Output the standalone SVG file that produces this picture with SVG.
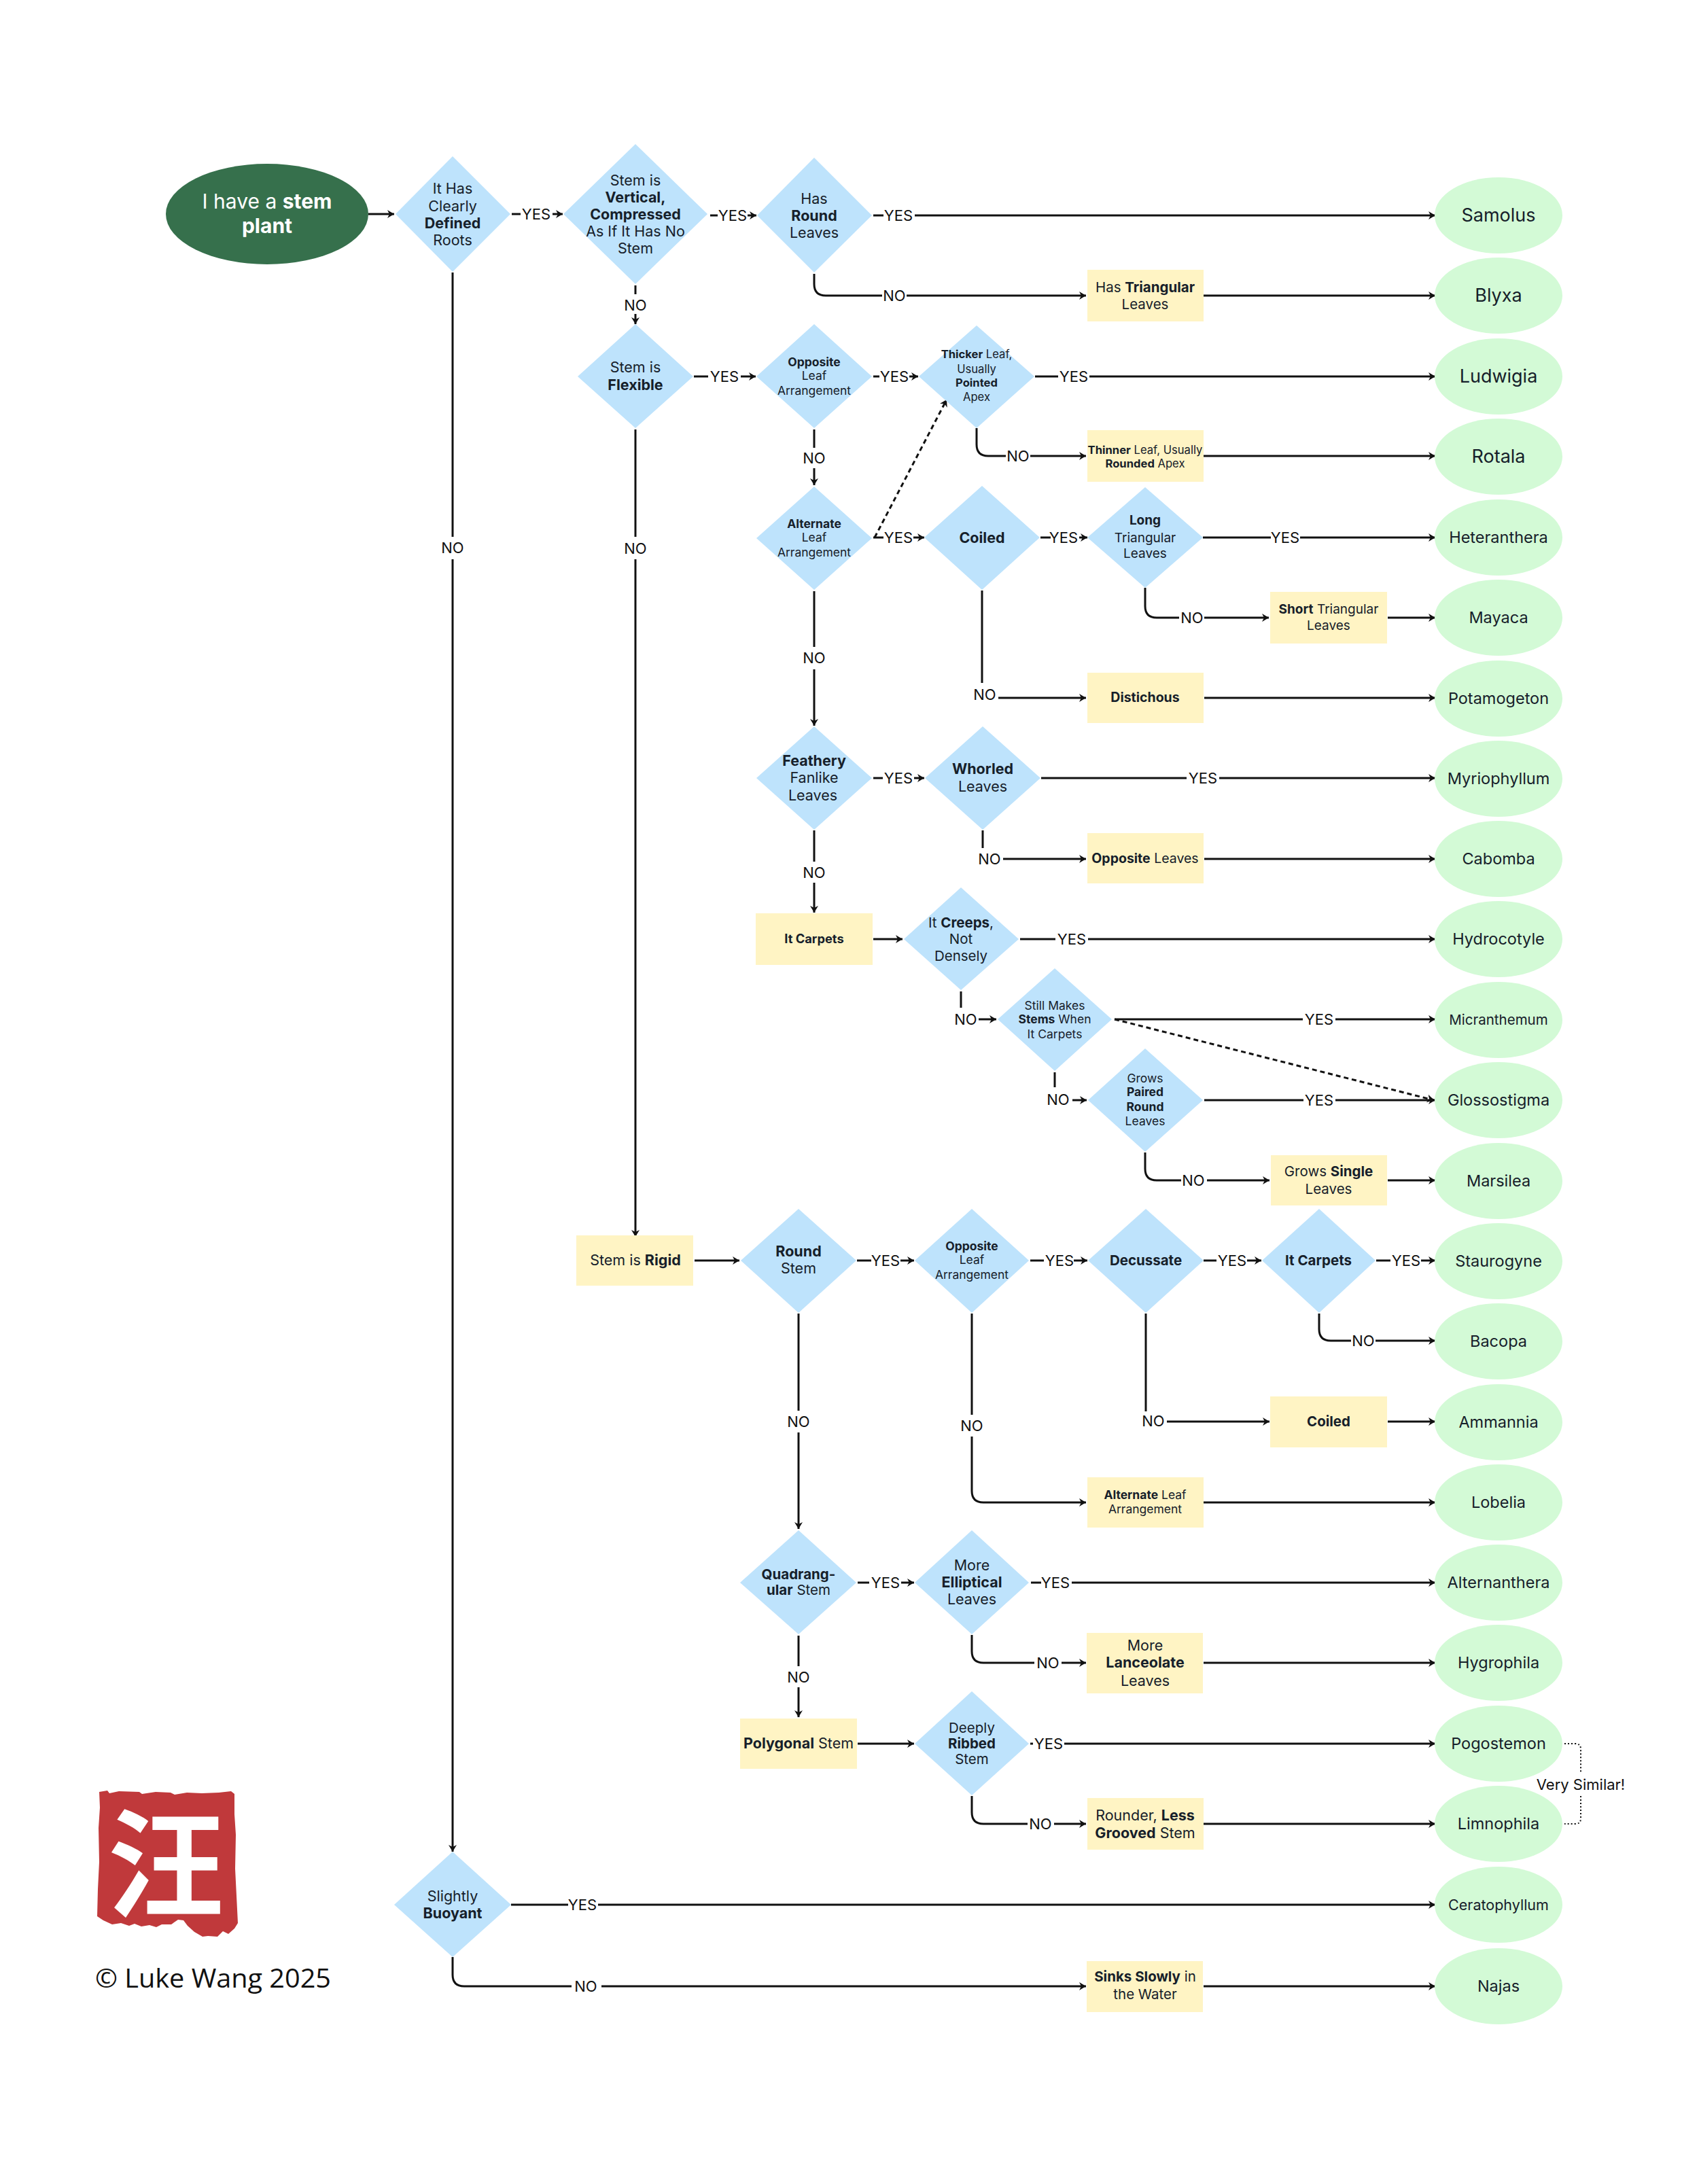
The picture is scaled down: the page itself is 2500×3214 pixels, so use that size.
<svg xmlns="http://www.w3.org/2000/svg" width="2500" height="3214" viewBox="0 0 2500 3214">
<style>
text{font-family:Inter,"Noto Sans","Liberation Sans","Noto Sans CJK SC",sans-serif;fill:#16202a;text-anchor:middle;font-weight:400}
.b{font-weight:700}
.f16{font-size:16.6px}.f17{font-size:17.5px}.f18{font-size:19.5px}.f19{font-size:19px}.f20{font-size:20.5px}.f21{font-size:21.5px}.f22{font-size:23.5px}.f23{font-size:18.3px}.f26{font-size:27px}.f30{font-size:30px}
.d{fill:#bee3fc}.r{fill:#fff4c4}.g{fill:#d3fad6}
.c{fill:none;stroke:#111;stroke-width:3}
.a{marker-end:url(#arr)}
.dash{stroke-dasharray:7 5}
.dot{stroke-width:2;stroke-dasharray:2 3}
.l{font-size:22px;fill:#111}
</style>
<defs>
<marker id="arr" markerUnits="userSpaceOnUse" markerWidth="12" markerHeight="14" refX="11" refY="7" orient="auto"><path d="M1,1 L11,7 L1,13 L4,7 Z" fill="#111"/></marker>
</defs>
<rect width="2500" height="3214" fill="#fff"/>

<g id="connectors">
<path class="c a" d="M542,315H580"/>
<path class="c" d="M753,315H766"/><path class="c a" d="M813,315H828"/>
<path class="c" d="M1045,317H1056"/><path class="c a" d="M1100,317H1113"/>
<path class="c" d="M1285,317H1300"/><path class="c a" d="M1346,317H2112"/>
<path class="c" d="M1198,403V418Q1198,435 1215,435H1298"/><path class="c a" d="M1334,435H1598"/>
<path class="c a" d="M1771,435H2112"/>
<path class="c" d="M666,401V790"/><path class="c a" d="M666,823V2725"/>
<path class="c" d="M935,420V433"/><path class="c a" d="M935,462V477"/>
<path class="c" d="M1021,554H1042"/><path class="c a" d="M1090,554H1112"/>
<path class="c" d="M1285,554H1294"/><path class="c a" d="M1338,554H1351"/>
<path class="c" d="M1523,554H1557"/><path class="c a" d="M1603,554H2112"/>
<path class="c" d="M1437,630V654Q1437,671 1454,671H1480"/><path class="c a" d="M1516,671H1598"/>
<path class="c a" d="M1771,671H2112"/>
<path class="c" d="M935,632V790"/><path class="c a" d="M935,823V1820"/>
<path class="c" d="M1198,632V659"/><path class="c a" d="M1198,689V714"/>
<path class="c a dash" d="M1287,791L1393,588"/>
<path class="c" d="M1285,791H1300"/><path class="c a" d="M1344,791H1360"/>
<path class="c" d="M1531,791H1546"/><path class="c a" d="M1588,791H1600"/>
<path class="c" d="M1770,791H1870"/><path class="c a" d="M1913,791H2112"/>
<path class="c" d="M1685,865V892Q1685,909 1702,909H1735"/><path class="c a" d="M1772,909H1867"/>
<path class="c a" d="M2042,909H2112"/>
<path class="c" d="M1198,870V952"/><path class="c a" d="M1198,985V1068"/>
<path class="c" d="M1445,869V1005"/><path class="c a" d="M1469,1027H1598"/>
<path class="c a" d="M1772,1027H2112"/>
<path class="c" d="M1285,1145H1299"/><path class="c a" d="M1345,1145H1360"/>
<path class="c" d="M1532,1145H1746"/><path class="c a" d="M1794,1145H2112"/>
<path class="c" d="M1446,1222V1248"/><path class="c a" d="M1476,1264H1598"/>
<path class="c a" d="M1772,1264H2112"/>
<path class="c" d="M1198,1222V1268"/><path class="c a" d="M1198,1299V1343"/>
<path class="c a" d="M1285,1382H1328"/>
<path class="c" d="M1501,1382H1553"/><path class="c a" d="M1601,1382H2112"/>
<path class="c" d="M1414,1459V1483"/><path class="c a" d="M1440,1500H1466"/>
<path class="c" d="M1640,1500H1917"/><path class="c a" d="M1965,1500H2112"/>
<path class="c a dash" d="M1640,1500L2110,1619"/>
<path class="c" d="M1552,1578V1600"/><path class="c a" d="M1578,1619H1599"/>
<path class="c" d="M1772,1619H1918"/><path class="c a" d="M1965,1619H2112"/>
<path class="c" d="M1685,1696V1720Q1685,1737 1702,1737H1738"/><path class="c a" d="M1776,1737H1868"/>
<path class="c a" d="M2042,1737H2112"/>
<path class="c a" d="M1022,1855H1088"/>
<path class="c" d="M1261,1855H1282"/><path class="c a" d="M1325,1855H1345"/>
<path class="c" d="M1516,1855H1536"/><path class="c a" d="M1580,1855H1600"/>
<path class="c" d="M1771,1855H1790"/><path class="c a" d="M1835,1855H1856"/>
<path class="c" d="M2025,1855H2046"/><path class="c a" d="M2091,1855H2112"/>
<path class="c" d="M1941,1933V1956Q1941,1973 1958,1973H1988"/><path class="c a" d="M2024,1973H2112"/>
<path class="c" d="M1686,1933V2077"/><path class="c a" d="M1717,2092H1868"/>
<path class="c a" d="M2042,2092H2112"/>
<path class="c" d="M1430,1933V2082"/><path class="c a" d="M1430,2114V2194Q1430,2211 1447,2211H1598"/>
<path class="c a" d="M1771,2211H2112"/>
<path class="c" d="M1175,1933V2076"/><path class="c a" d="M1175,2108V2250"/>
<path class="c" d="M1262,2329H1279"/><path class="c a" d="M1326,2329H1345"/>
<path class="c" d="M1517,2329H1532"/><path class="c a" d="M1577,2329H2112"/>
<path class="c" d="M1430,2406V2430Q1430,2447 1447,2447H1522"/><path class="c a" d="M1562,2447H1598"/>
<path class="c a" d="M1771,2447H2112"/>
<path class="c" d="M1175,2407V2452"/><path class="c a" d="M1175,2483V2527"/>
<path class="c a" d="M1262,2566H1345"/>
<path class="c" d="M1516,2566H1520"/><path class="c a" d="M1566,2566H2112"/>
<path class="c" d="M1430,2643V2667Q1430,2684 1447,2684H1512"/><path class="c a" d="M1551,2684H1598"/>
<path class="c a" d="M1771,2684H2112"/>
<path class="c dot" d="M2302,2566H2318Q2326,2566 2326,2574V2608M2326,2643V2676Q2326,2684 2318,2684H2302"/>
<path class="c" d="M752,2803H836"/><path class="c a" d="M880,2803H2112"/>
<path class="c" d="M666,2880V2906Q666,2923 683,2923H841"/><path class="c a" d="M885,2923H1598"/>
<path class="c a" d="M1771,2923H2112"/>
</g>

<g id="connector-labels">
<text class="l" x="789" y="323">YES</text><text class="l" x="1078" y="325">YES</text><text class="l" x="1322" y="325">YES</text>
<text class="l" x="1316" y="443">NO</text><text class="l" x="935" y="457">NO</text><text class="l" x="666" y="814">NO</text><text class="l" x="935" y="815">NO</text>
<text class="l" x="1066" y="562">YES</text><text class="l" x="1316" y="562">YES</text><text class="l" x="1580" y="562">YES</text>
<text class="l" x="1498" y="679">NO</text><text class="l" x="1198" y="682">NO</text>
<text class="l" x="1322" y="799">YES</text><text class="l" x="1565" y="799">YES</text><text class="l" x="1891" y="799">YES</text>
<text class="l" x="1754" y="917">NO</text><text class="l" x="1198" y="976">NO</text><text class="l" x="1449" y="1030">NO</text>
<text class="l" x="1322" y="1153">YES</text><text class="l" x="1770" y="1153">YES</text><text class="l" x="1456" y="1272">NO</text><text class="l" x="1198" y="1292">NO</text>
<text class="l" x="1577" y="1390">YES</text><text class="l" x="1421" y="1508">NO</text><text class="l" x="1941" y="1508">YES</text>
<text class="l" x="1557" y="1626">NO</text><text class="l" x="1941" y="1627">YES</text><text class="l" x="1756" y="1745">NO</text>
<text class="l" x="1303" y="1863">YES</text><text class="l" x="1559" y="1863">YES</text><text class="l" x="1813" y="1863">YES</text><text class="l" x="2069" y="1863">YES</text>
<text class="l" x="2006" y="1981">NO</text><text class="l" x="1697" y="2099">NO</text><text class="l" x="1430" y="2106">NO</text><text class="l" x="1175" y="2100">NO</text>
<text class="l" x="1303" y="2337">YES</text><text class="l" x="1553" y="2337">YES</text><text class="l" x="1542" y="2455">NO</text><text class="l" x="1175" y="2476">NO</text>
<text class="l" x="1543" y="2574">YES</text><text class="l" x="1531" y="2692">NO</text>
<text class="l" x="857" y="2811">YES</text><text class="l" x="862" y="2931">NO</text>
<text class="l" x="2326" y="2634">Very Similar!</text>
</g>

<g id="start"><ellipse cx="393" cy="315" rx="149" ry="74" fill="#36704c"/><text class="f30" style="fill:#fff"><tspan x="393" y="307" style="fill:#fff">I have a <tspan class="b" style="fill:#fff">stem</tspan></tspan><tspan x="393" y="343" class="b" style="fill:#fff">plant</tspan></text></g>
<g id="q-roots"><polygon class="d" points="666,230 751,315 666,400 582,315"/><text class="f21"><tspan x="666" y="285">It Has</tspan><tspan x="666" y="311">Clearly</tspan><tspan x="666" y="336" class="b">Defined</tspan><tspan x="666" y="361">Roots</tspan></text></g>
<g id="q-vertical"><polygon class="d" points="935,212 1041,315 935,418 829,315"/><text class="f21"><tspan x="935" y="273">Stem is</tspan><tspan x="935" y="298" class="b">Vertical,</tspan><tspan x="935" y="323" class="b">Compressed</tspan><tspan x="935" y="348">As If It Has No</tspan><tspan x="935" y="373">Stem</tspan></text></g>
<g id="q-round"><polygon class="d" points="1198,232 1283,317 1198,401 1114,317"/><text class="f21"><tspan x="1198" y="300">Has</tspan><tspan x="1198" y="325" class="b">Round</tspan><tspan x="1198" y="350">Leaves</tspan></text></g>
<g id="q-flexible"><polygon class="d" points="935,477 1020,554 935,630 850,554"/><text class="f21"><tspan x="935" y="548">Stem is</tspan><tspan x="935" y="574" class="b">Flexible</tspan></text></g>
<g id="q-opposite1"><polygon class="d" points="1198,477 1283,554 1198,630 1113,554"/><text class="f17"><tspan x="1198" y="539" class="b">Opposite</tspan><tspan x="1198" y="559">Leaf</tspan><tspan x="1198" y="581">Arrangement</tspan></text></g>
<g id="q-thicker"><polygon class="d" points="1437,479 1522,554 1437,630 1352,554"/><text class="f16"><tspan x="1437" y="527"><tspan class="b">Thicker</tspan> Leaf,</tspan><tspan x="1437" y="549">Usually</tspan><tspan x="1437" y="569" class="b">Pointed</tspan><tspan x="1437" y="590">Apex</tspan></text></g>
<g id="q-alternate1"><polygon class="d" points="1198,716 1283,792 1198,868 1113,792"/><text class="f17"><tspan x="1198" y="777" class="b">Alternate</tspan><tspan x="1198" y="797">Leaf</tspan><tspan x="1198" y="819">Arrangement</tspan></text></g>
<g id="q-coiled"><polygon class="d" points="1445,715 1530,791 1445,868 1360,791"/><text class="f21 b" x="1445" y="799">Coiled</text></g>
<g id="q-long"><polygon class="d" points="1685,717 1770,791 1685,865 1600,791"/><text class="f19"><tspan x="1685" y="772" class="b">Long</tspan><tspan x="1685" y="798">Triangular</tspan><tspan x="1685" y="821">Leaves</tspan></text></g>
<g id="q-feathery"><polygon class="d" points="1198,1069 1283,1145 1198,1221 1113,1145"/><text class="f21"><tspan x="1198" y="1127" class="b">Feathery</tspan><tspan x="1198" y="1152">Fanlike</tspan><tspan x="1196" y="1178">Leaves</tspan></text></g>
<g id="q-whorled"><polygon class="d" points="1446,1069 1531,1145 1446,1221 1361,1145"/><text class="f21"><tspan x="1446" y="1139" class="b">Whorled</tspan><tspan x="1446" y="1165">Leaves</tspan></text></g>
<g id="q-creeps"><polygon class="d" points="1414,1306 1499,1382 1414,1457 1330,1382"/><text class="f20"><tspan x="1414" y="1365">It <tspan class="b">Creeps</tspan>,</tspan><tspan x="1414" y="1389">Not</tspan><tspan x="1414" y="1414">Densely</tspan></text></g>
<g id="q-stillmakes"><polygon class="d" points="1552,1425 1636,1500 1552,1576 1468,1500"/><text class="f17"><tspan x="1552" y="1486">Still Makes</tspan><tspan x="1552" y="1506"><tspan class="b">Stems</tspan> When</tspan><tspan x="1552" y="1528">It Carpets</tspan></text></g>
<g id="q-paired"><polygon class="d" points="1685,1543 1770,1619 1685,1695 1601,1619"/><text class="f17"><tspan x="1685" y="1593">Grows</tspan><tspan x="1685" y="1613" class="b">Paired</tspan><tspan x="1685" y="1635" class="b">Round</tspan><tspan x="1685" y="1656">Leaves</tspan></text></g>
<g id="q-roundstem"><polygon class="d" points="1175,1779 1260,1855 1175,1932 1090,1855"/><text class="f21"><tspan x="1175" y="1849" class="b">Round</tspan><tspan x="1175" y="1874">Stem</tspan></text></g>
<g id="q-opposite2"><polygon class="d" points="1430,1779 1514,1855 1430,1932 1346,1855"/><text class="f17"><tspan x="1430" y="1840" class="b">Opposite</tspan><tspan x="1430" y="1860">Leaf</tspan><tspan x="1430" y="1882">Arrangement</tspan></text></g>
<g id="q-decussate"><polygon class="d" points="1686,1779 1771,1855 1686,1932 1601,1855"/><text class="f20 b" x="1686" y="1862">Decussate</text></g>
<g id="q-carpets"><polygon class="d" points="1941,1779 2024,1855 1941,1932 1857,1855"/><text class="f20 b" x="1940" y="1862">It Carpets</text></g>
<g id="q-quadrangular"><polygon class="d" points="1175,2252 1260,2329 1175,2405 1089,2329"/><text class="f20"><tspan x="1175" y="2324" class="b">Quadrang-</tspan><tspan x="1175" y="2347"><tspan class="b">ular</tspan> Stem</tspan></text></g>
<g id="q-elliptical"><polygon class="d" points="1430,2252 1514,2329 1430,2405 1346,2329"/><text class="f21"><tspan x="1430" y="2311">More</tspan><tspan x="1430" y="2336" class="b">Elliptical</tspan><tspan x="1430" y="2361">Leaves</tspan></text></g>
<g id="q-ribbed"><polygon class="d" points="1430,2489 1514,2566 1430,2642 1346,2566"/><text class="f20"><tspan x="1430" y="2550">Deeply</tspan><tspan x="1430" y="2573" class="b">Ribbed</tspan><tspan x="1430" y="2596">Stem</tspan></text></g>
<g id="q-buoyant"><polygon class="d" points="666,2725 752,2803 666,2880 580,2803"/><text class="f21"><tspan x="666" y="2798">Slightly</tspan><tspan x="666" y="2823" class="b">Buoyant</tspan></text></g>

<g id="b-triangular"><rect class="r" x="1600" y="397" width="171" height="76"/><text class="f20"><tspan x="1685" y="430">Has <tspan class="b">Triangular</tspan></tspan><tspan x="1685" y="455">Leaves</tspan></text></g>
<g id="b-thinner"><rect class="r" x="1600" y="633" width="171" height="76"/><text class="f16"><tspan x="1685" y="668"><tspan class="b">Thinner</tspan> Leaf, Usually</tspan><tspan x="1685" y="688"><tspan class="b">Rounded</tspan> Apex</tspan></text></g>
<g id="b-short"><rect class="r" x="1869" y="871" width="172" height="76"/><text class="f19"><tspan x="1955" y="903"><tspan class="b">Short</tspan> Triangular</tspan><tspan x="1955" y="927">Leaves</tspan></text></g>
<g id="b-distichous"><rect class="r" x="1600" y="990" width="171" height="74"/><text class="f18 b" x="1685" y="1033">Distichous</text></g>
<g id="b-opposite"><rect class="r" x="1600" y="1226" width="171" height="74"/><text class="f18" x="1685" y="1270"><tspan class="b">Opposite</tspan> Leaves</text></g>
<g id="b-itcarpets"><rect class="r" x="1112" y="1344" width="172" height="76"/><text class="f23 b" x="1198" y="1388">It Carpets</text></g>
<g id="b-single"><rect class="r" x="1870" y="1700" width="171" height="74"/><text class="f20"><tspan x="1955" y="1731">Grows <tspan class="b">Single</tspan></tspan><tspan x="1955" y="1757">Leaves</tspan></text></g>
<g id="b-rigid"><rect class="r" x="848" y="1818" width="172" height="74"/><text class="f21" x="935" y="1862">Stem is <tspan class="b">Rigid</tspan></text></g>
<g id="b-coiled"><rect class="r" x="1869" y="2055" width="172" height="75"/><text class="f20 b" x="1955" y="2099">Coiled</text></g>
<g id="b-alternate"><rect class="r" x="1600" y="2174" width="171" height="74"/><text class="f17"><tspan x="1685" y="2206"><tspan class="b">Alternate</tspan> Leaf</tspan><tspan x="1685" y="2227">Arrangement</tspan></text></g>
<g id="b-lanceolate"><rect class="r" x="1599" y="2403" width="171" height="89"/><text class="f21"><tspan x="1685" y="2429">More</tspan><tspan x="1685" y="2454" class="b">Lanceolate</tspan><tspan x="1685" y="2481">Leaves</tspan></text></g>
<g id="b-polygonal"><rect class="r" x="1089" y="2529" width="172" height="74"/><text class="f21" x="1175" y="2573"><tspan class="b">Polygonal</tspan> Stem</text></g>
<g id="b-rounder"><rect class="r" x="1600" y="2646" width="171" height="76"/><text class="f21"><tspan x="1685" y="2679">Rounder, <tspan class="b">Less</tspan></tspan><tspan x="1685" y="2705"><tspan class="b">Grooved</tspan> Stem</tspan></text></g>
<g id="b-sinks"><rect class="r" x="1599" y="2886" width="171" height="75"/><text class="f20"><tspan x="1685" y="2916"><tspan class="b">Sinks Slowly</tspan> in</tspan><tspan x="1685" y="2942">the Water</tspan></text></g>

<g id="e-samolus"><ellipse class="g" cx="2205" cy="317" rx="94" ry="56"/><text class="f26" x="2205" y="326">Samolus</text></g>
<g id="e-blyxa"><ellipse class="g" cx="2205" cy="435" rx="94" ry="56"/><text class="f26" x="2205" y="444">Blyxa</text></g>
<g id="e-ludwigia"><ellipse class="g" cx="2205" cy="554" rx="94" ry="56"/><text class="f26" x="2205" y="563">Ludwigia</text></g>
<g id="e-rotala"><ellipse class="g" cx="2205" cy="672" rx="94" ry="56"/><text class="f26" x="2205" y="681">Rotala</text></g>
<g id="e-heteranthera"><ellipse class="g" cx="2205" cy="791" rx="94" ry="56"/><text class="f22" x="2205" y="799">Heteranthera</text></g>
<g id="e-mayaca"><ellipse class="g" cx="2205" cy="909" rx="94" ry="56"/><text class="f22" x="2205" y="917">Mayaca</text></g>
<g id="e-potamogeton"><ellipse class="g" cx="2205" cy="1028" rx="94" ry="56"/><text class="f22" x="2205" y="1036">Potamogeton</text></g>
<g id="e-myriophyllum"><ellipse class="g" cx="2205" cy="1146" rx="94" ry="56"/><text class="f22" x="2205" y="1154">Myriophyllum</text></g>
<g id="e-cabomba"><ellipse class="g" cx="2205" cy="1264" rx="94" ry="56"/><text class="f22" x="2205" y="1272">Cabomba</text></g>
<g id="e-hydrocotyle"><ellipse class="g" cx="2205" cy="1382" rx="94" ry="56"/><text class="f22" x="2205" y="1390">Hydrocotyle</text></g>
<g id="e-micranthemum"><ellipse class="g" cx="2205" cy="1501" rx="94" ry="56"/><text class="f20" x="2205" y="1508">Micranthemum</text></g>
<g id="e-glossostigma"><ellipse class="g" cx="2205" cy="1619" rx="94" ry="56"/><text class="f22" x="2205" y="1627">Glossostigma</text></g>
<g id="e-marsilea"><ellipse class="g" cx="2205" cy="1738" rx="94" ry="56"/><text class="f22" x="2205" y="1746">Marsilea</text></g>
<g id="e-staurogyne"><ellipse class="g" cx="2205" cy="1856" rx="94" ry="56"/><text class="f22" x="2205" y="1864">Staurogyne</text></g>
<g id="e-bacopa"><ellipse class="g" cx="2205" cy="1974" rx="94" ry="56"/><text class="f22" x="2205" y="1982">Bacopa</text></g>
<g id="e-ammannia"><ellipse class="g" cx="2205" cy="2093" rx="94" ry="56"/><text class="f22" x="2205" y="2101">Ammannia</text></g>
<g id="e-lobelia"><ellipse class="g" cx="2205" cy="2211" rx="94" ry="56"/><text class="f22" x="2205" y="2219">Lobelia</text></g>
<g id="e-alternanthera"><ellipse class="g" cx="2205" cy="2329" rx="94" ry="56"/><text class="f22" x="2205" y="2337">Alternanthera</text></g>
<g id="e-hygrophila"><ellipse class="g" cx="2205" cy="2447" rx="94" ry="56"/><text class="f22" x="2205" y="2455">Hygrophila</text></g>
<g id="e-pogostemon"><ellipse class="g" cx="2205" cy="2566" rx="94" ry="56"/><text class="f22" x="2205" y="2574">Pogostemon</text></g>
<g id="e-limnophila"><ellipse class="g" cx="2205" cy="2684" rx="94" ry="56"/><text class="f22" x="2205" y="2692">Limnophila</text></g>
<g id="e-ceratophyllum"><ellipse class="g" cx="2205" cy="2803" rx="94" ry="56"/><text class="f21" x="2205" y="2811">Ceratophyllum</text></g>
<g id="e-najas"><ellipse class="g" cx="2205" cy="2923" rx="94" ry="56"/><text class="f22" x="2205" y="2931">Najas</text></g>

<g id="seal">
<path fill="#c0393b" d="M146,2637L158,2635L161,2639L175,2636L205,2637L209,2640L229,2637L251,2638L257,2641L275,2638L297,2639L322,2638L340,2636L345,2640L345,2670L347,2700L346,2750L348,2790L350,2830L345,2838L336,2846L328,2842L320,2850L306,2849L298,2850L286,2843L276,2834L270,2826L262,2825L252,2832L238,2832L230,2836L220,2833L208,2835L198,2831L190,2834L178,2830L165,2832L152,2826L143,2820L144,2780L146,2740L145,2690L147,2660Z"/>
<text x="244" y="2807" style="font-family:'Noto Sans CJK SC',sans-serif;font-size:172px;font-weight:700;fill:#fff">汪</text>
</g>
<g id="credit"><text x="140" y="2925" style="font-family:'Open Sans','Liberation Sans',sans-serif;font-size:39px;text-anchor:start;fill:#111" textLength="347" lengthAdjust="spacingAndGlyphs">© Luke Wang 2025</text></g>
</svg>
